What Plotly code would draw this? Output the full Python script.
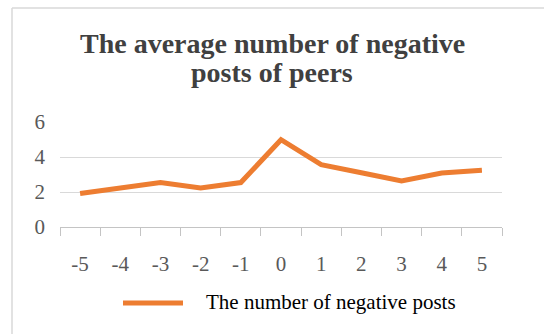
import plotly.graph_objects as go

categories = ["-5", "-4", "-3", "-2", "-1", "0", "1", "2", "3", "4", "5"]
values = [1.91, 2.19, 2.54, 2.23, 2.54, 4.99, 3.56, 3.10, 2.63, 3.09, 3.24]
series_name = "The number of negative posts"
title_lines = ["The average number of negative", "posts of peers"]
y_ticks = [0, 2, 4, 6]

ORANGE = "#ED7D31"
GRID = "#D9D9D9"
AXIS = "#C4C4C4"
SERIF = "Liberation Serif, Times New Roman, serif"

W, H = 544, 334
L, R, T, B = 60, 42, 122, 107
pw, ph = W - L - R, H - T - B

def px_x(p):
    return (p - L) / pw

def px_y(p):
    return (H - B - p) / ph

fig = go.Figure()
fig.add_trace(go.Scatter(
    x=categories, y=values, mode="lines", name=series_name,
    line=dict(color=ORANGE, width=5), showlegend=False,
))

shapes = [
    dict(type="line", xref="paper", yref="paper", x0=px_x(12), x1=px_x(12), y0=px_y(8), y1=px_y(H + 2),
         line=dict(color=GRID, width=1.5)),
    dict(type="line", xref="paper", yref="paper", x0=px_x(12), x1=px_x(W + 2), y0=px_y(8), y1=px_y(8),
         line=dict(color=GRID, width=1.5)),
    dict(type="line", xref="paper", yref="paper", x0=px_x(123), x1=px_x(183), y0=px_y(303), y1=px_y(303),
         line=dict(color=ORANGE, width=5)),
]

annotations = [
    dict(text=series_name, xref="paper", yref="paper", x=px_x(204), y=px_y(302),
         xanchor="left", yanchor="middle", showarrow=False,
         font=dict(family=SERIF, size=21, color="#000000")),
]
for i, (line, cy) in enumerate(zip(title_lines, [43, 72])):
    annotations.append(dict(text="<b>" + line + "</b>", xref="paper", yref="paper",
                            x=px_x(272), y=px_y(cy), xanchor="center", yanchor="middle",
                            showarrow=False, font=dict(family=SERIF, size=28, color="#404040")))

fig.update_layout(
    width=W, height=H,
    margin=dict(l=L, r=R, t=T, b=B),
    paper_bgcolor="white", plot_bgcolor="white",
    shapes=shapes, annotations=annotations,
    xaxis=dict(type="category", range=[-0.5, len(categories) - 0.5], tickson="boundaries",
               ticks="outside", ticklen=8, tickcolor=AXIS,
               tickwidth=1, showline=True, linecolor=AXIS, linewidth=1, showgrid=False,
               ticklabelstandoff=18, tickfont=dict(family=SERIF, size=21, color="#595959")),
    yaxis=dict(range=[0, 6], tickvals=y_ticks, showgrid=True, gridcolor=GRID, gridwidth=1,
               zeroline=False, showline=False, ticks="", ticklabelstandoff=14,
               tickfont=dict(family=SERIF, size=21, color="#595959")),
)

fig.write_html("out.html")
